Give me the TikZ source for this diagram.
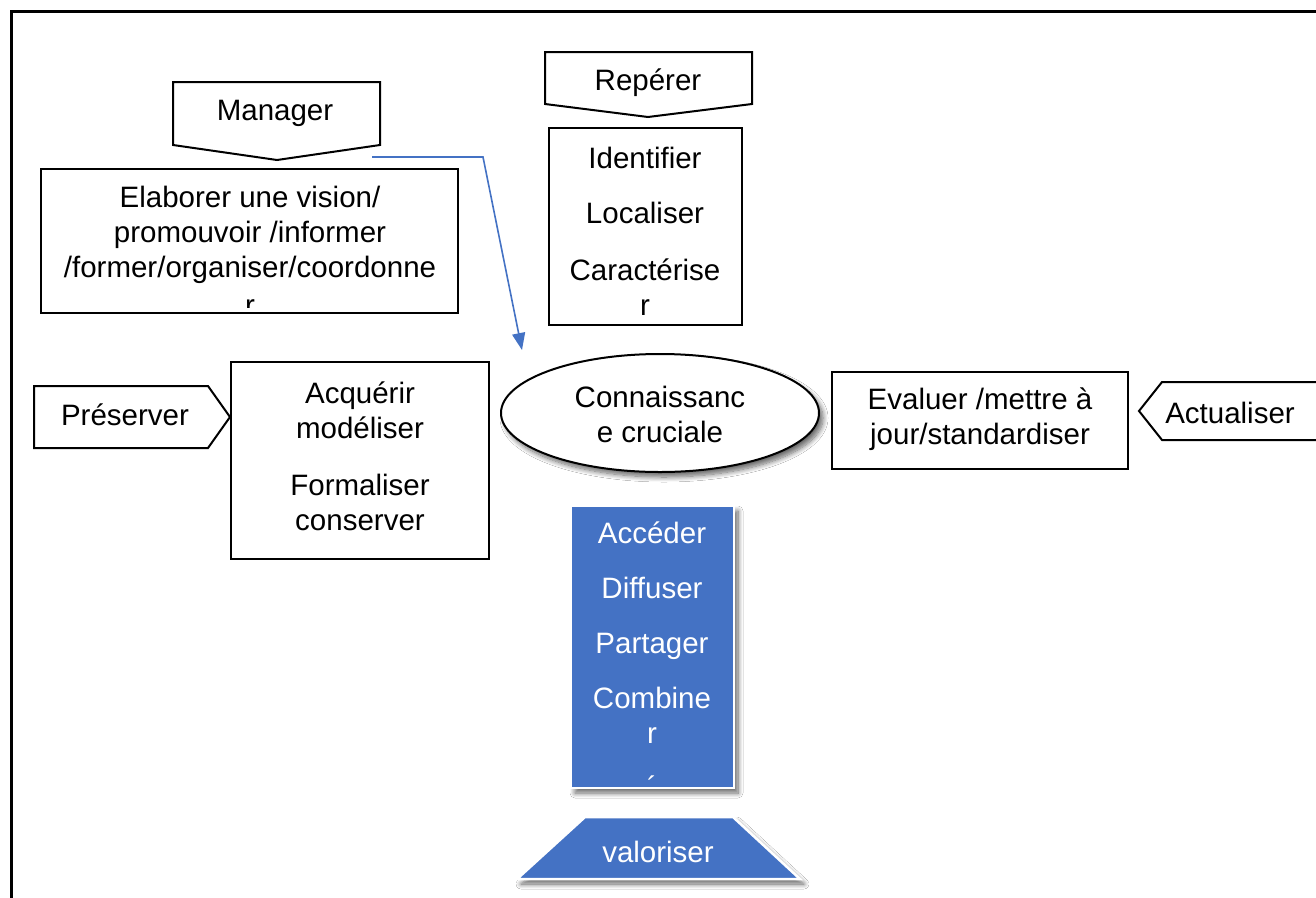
\documentclass[tikz,border=0pt]{standalone}
\usepackage{fontspec}
\setmainfont{Liberation Sans}
\usetikzlibrary{shadows.blur,arrows.meta,shapes.geometric}
\definecolor{accentblue}{HTML}{4472C4}
\tikzset{
  txt/.style={inner sep=0pt, anchor=base, font=\fontsize{29.5}{35}\selectfont},
  wtxt/.style={txt, text=white},
  box/.style={draw=black, line width=2pt, fill=white, inner sep=0pt},
  tag/.style={draw=black, line width=2pt, fill=white, line join=miter},
  soft shadow/.style={blur shadow={shadow xshift=4pt, shadow yshift=-5pt,
      shadow blur radius=5pt, shadow blur steps=10, shadow opacity=60}},
  solidblue/.style={fill=accentblue, draw=white, line width=2.5pt, soft shadow},
  link/.style={draw=accentblue, line width=1.6pt, line join=miter,
      -{Triangle[length=17pt,width=13pt]}},
}
\begin{document}
\begin{tikzpicture}[x=1pt, y=-1pt]
  \clip (0,0) rectangle (1316,897);
  \fill[white] (0,0) rectangle (1316,897);

  % outer frame (only the top and left edges fall inside the page)
  \draw[line width=3pt] (11,930) -- (11,11) -- (1340,11);

  % ---------- Manager ----------
  \draw[tag] (173,82) -- (380,82) -- (380,145) -- (277,160) -- (173,145) -- cycle;
  \node[txt] (manager) at (275,120) {Manager};

  \node[box, minimum width=417pt, minimum height=144pt] (elab) at (249.5,241) {};
  \node[txt] (elab1) at (250,207) {Elaborer une vision/};
  \node[txt] (elab2) at (250,242) {promouvoir /informer};
  \node[txt] (elab3) at (250,277) {/former/organiser/coordonne};
  \begin{scope}
    \clip (41,169) rectangle (458,307);
    \node[txt] (elab4) at (250,315) {r};
  \end{scope}

  % ---------- Repérer ----------
  \draw[tag] (545,52) -- (752,52) -- (752,104) -- (648,117) -- (545,104) -- cycle;
  \node[txt] (reperer) at (648,90) {Repérer};

  \node[box, minimum width=193pt, minimum height=197pt] (ident) at (645.5,226.5) {};
  \node[txt] (ident1) at (645,168) {Identifier};
  \node[txt] (ident2) at (645,223) {Localiser};
  \node[txt] (ident3) at (645,280) {Caractérise};
  \node[txt] (ident4) at (645,315) {r};

  % ---------- Préserver ----------
  \draw[tag] (34,386) -- (208,386) -- (230,417) -- (208,448) -- (34,448) -- cycle;
  \node[txt] (preserver) at (125,425) {Préserver};

  \node[box, minimum width=258pt, minimum height=197pt] (acq) at (360,460.5) {};
  \node[txt] (acq1) at (360,403) {Acquérir};
  \node[txt] (acq2) at (360,438) {modéliser};
  \node[txt] (acq3) at (360,495) {Formaliser};
  \node[txt] (acq4) at (360,530) {conserver};

  % ---------- central knowledge ----------
  \node[ellipse, draw=black, line width=2pt, fill=white, inner sep=0pt,
        minimum width=318pt, minimum height=118pt, soft shadow] (know) at (660,413) {};
  \node[txt] (know1) at (660,407) {Connaissanc};
  \node[txt] (know2) at (660,442) {e cruciale};

  % ---------- Actualiser ----------
  \node[box, minimum width=296pt, minimum height=97pt] (eval) at (980,420.5) {};
  \node[txt] (eval1) at (980,409) {Evaluer /mettre à};
  \node[txt] (eval2) at (980,444) {jour/standardiser};

  \draw[tag] (1139,411) -- (1162,382) -- (1330,382) -- (1330,440) -- (1162,440) -- cycle;
  \node[txt] (actualiser) at (1230,423) {Actualiser};

  % ---------- transfer block ----------
  \node[solidblue, inner sep=0pt, minimum width=163pt, minimum height=282pt] (transfer) at (652.5,647) {};
  \node[wtxt] (tr1) at (652,543) {Accéder};
  \node[wtxt] (tr2) at (652,598) {Diffuser};
  \node[wtxt] (tr3) at (652,653) {Partager};
  \node[wtxt] (tr4) at (652,708) {Combine};
  \node[wtxt] (tr5) at (652,743) {r};
  \node[wtxt] (tr6) at (652,797) {´};

  \path[solidblue] (517,879) -- (585,817) -- (733,817) -- (800,879) -- cycle;
  \node[wtxt] (valoriser) at (658,862) {valoriser};

  % ---------- connector from Manager towards the core ----------
  \coordinate (mgrout) at (372,157);
  \coordinate (bend) at (483,157);
  \coordinate (core) at (522,350);
  \draw[link] (mgrout) -- (bend) -- (core);
\end{tikzpicture}
\end{document}
